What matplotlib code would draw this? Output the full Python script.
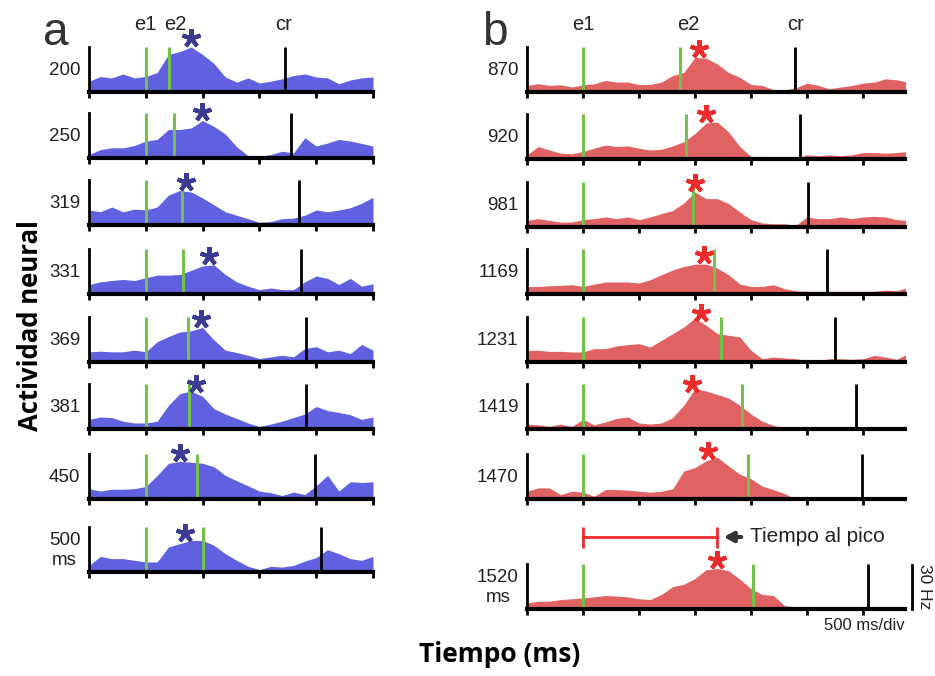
"""
Rebuild of the a/b PSTH figure: firing rate per ISI condition,
blue = short ISIs (panel a), red = long ISIs (panel b).
"""
import numpy as np
import matplotlib
matplotlib.use("Agg")
import matplotlib.pyplot as plt

# ── Data (Hz, every 100 ms) ──────────────────────────────────────────────────
t_a = np.arange(0, 2501, 100)
t_b = np.arange(0, 3401, 100)

labels_a = ["200", "250", "319", "331", "369", "381", "450", "500\nms"]
isi_a = [200, 250, 319, 331, 369, 381, 450, 500]
cr_a = [1729, 1782, 1847, 1862, 1906, 1912, 1988, 2038]
peak_a = [900, 994, 853, 1053, 988, 944, 803, 847]

trace_a_200 = [7.2, 10.3, 9.4, 12, 9.4, 10.3, 13, 25, 27, 30, 25, 19, 10, 6.6, 9.4, 6,
               7.2, 8.8, 11, 12, 10, 9.4, 5.5, 8, 9.4, 10]
trace_a_250 = [2.3, 5.6, 6.8, 6.8, 8.3, 11.3, 12.4, 19, 19, 20, 25, 21, 16, 7.5, 1.6, 1.1,
               2.3, 4.5, 3.4, 13.5, 8, 10, 12.4, 11.3, 9.7, 8]
trace_a_319 = [10, 8.8, 12, 8.8, 10.6, 10, 12, 20, 23, 22, 18, 13.4, 8.8, 6.5, 4.2, 1.8,
               2.3, 4.2, 4.6, 6.5, 10, 8.8, 10, 11.5, 14.5, 18.5]
trace_a_331 = [6.3, 8.1, 9, 9.7, 9, 10.8, 12.6, 12.6, 13, 15.8, 18.7, 19.4, 13, 8.1, 5.2, 2.9,
               4, 2.9, 2.9, 8.1, 12, 10.4, 6.3, 10.4, 5.2, 6.8]
trace_a_369 = [6.8, 7.2, 6.8, 6.8, 7.9, 6.8, 13.5, 17, 20, 20.8, 23, 14.7, 7.9, 6.3, 4.5, 2.3,
               3.4, 4.5, 3.4, 9, 10.2, 6.8, 7.9, 5.6, 11.7, 7.9]
trace_a_381 = [6.4, 8, 7.6, 5.2, 4, 4, 5.2, 15.8, 23.6, 25.3, 21.7, 13.5, 10, 7, 4, 1.7,
               3.3, 5.2, 7.6, 10, 15, 12.3, 11, 9.5, 6.4, 8]
trace_a_450 = [6.9, 5.3, 6.5, 6.5, 6.9, 8.3, 15.7, 23.8, 25, 24.5, 23.8, 21.5, 15.7, 12.2, 8.8, 5.3,
               4.2, 2.3, 4.6, 3, 8.8, 15.7, 5.3, 11.5, 11, 11.5]
trace_a_500 = [4.4, 10.4, 8.9, 8.9, 7.8, 6.7, 6.7, 16.7, 18.9, 21, 21, 17.8, 12.2, 7.8, 3.8, 1.6,
               3.8, 3.3, 4.4, 7.3, 9.6, 14.9, 12.2, 8.9, 7.8, 10.4]
traces_a = [trace_a_200, trace_a_250, trace_a_319, trace_a_331,
            trace_a_369, trace_a_381, trace_a_450, trace_a_500]

labels_b = ["870", "920", "981", "1169", "1231", "1419", "1470", "1520\nms"]
isi_b = [870, 920, 981, 1169, 1231, 1419, 1470, 1520]
cr_b = [2395, 2440, 2506, 2683, 2754, 2940, 2994, 3045]
peak_b = [1536, 1602, 1497, 1581, 1557, 1473, 1617, 1698]

trace_b_870 = [4.4, 5.5, 4.4, 4.8, 3.3, 4.8, 5.5, 7.7, 6.6, 6.6, 5, 5, 6.6, 11, 13, 23, 22.5,
               18.6, 13, 9.8, 5, 4.4, 1.5, 1.5, 2.8, 5.9, 4.4, 2.2, 3.3, 4.4, 5.9, 6.6, 8.8,
               8.1, 6.6]
trace_b_920 = [2.8, 8.3, 6, 3.9, 3.5, 5, 7.2, 9.3, 8.3, 8.7, 7.2, 6, 6.5, 8.7, 11.5, 17, 24,
               24.6, 18, 8.3, 1.7, 1.7, 0.9, 0.4, 0.4, 2.8, 2.2, 2.8, 2.2, 2.8, 4.3, 4.3, 3.9,
               4.3, 5]
trace_b_981 = [4.4, 5.6, 4.4, 3.3, 3.3, 4.9, 5.6, 6.7, 5.6, 6.7, 4.9, 6.7, 8.9, 11, 16, 23.3,
               18.9, 18.9, 15.6, 10, 4.9, 2.7, 2.2, 2.2, 1.1, 6.7, 5.6, 5.6, 6.7, 5.6, 6.7,
               7.1, 6.7, 4.9, 4.4]
trace_b_1169 = [5, 5, 5.5, 5.7, 6.2, 5, 6.6, 8, 8, 8, 7.3, 9.5, 12.8, 16, 18.3, 19.9, 19.9,
                17.2, 12.8, 6.6, 5, 5, 6.2, 3.5, 2.2, 1.8, 1.8, 1.8, 1.8, 1.8, 1.8, 1.8, 2.6,
                2.2, 4.4]
trace_b_1231 = [7.8, 7.8, 7.1, 7.1, 6.7, 6.7, 8.9, 8.9, 10.7, 11.6, 12.2, 10, 14.4, 18.9, 23.3,
                29.3, 24.4, 18.9, 17.8, 16.7, 7.8, 2.2, 3.3, 2.7, 2.2, 1.1, 0.9, 2.2, 2.2, 1.8,
                2.2, 4.4, 3.3, 1.8, 5.6]
trace_b_1419 = [3.3, 2.8, 1.7, 3.3, 1.7, 6.4, 2.8, 4.7, 7.1, 8, 4, 3.3, 4, 7.6, 15.8, 27, 25.3,
                23, 20.6, 15.8, 10, 5.2, 2.4, 1, 1, 0.5, 1.4, 1.7, 0, 0, 0, 0, 0, 0, 0]
trace_b_1470 = [5.2, 7.4, 7.4, 2.9, 5.2, 4.5, 1.8, 6.3, 6.3, 5.9, 5.2, 4.5, 5.2, 6.8, 18.7, 21,
                25.5, 27.8, 22, 16.5, 13.5, 8.6, 6.3, 3.6, 0, 0, 0, 0, 0.5, 0, 0, 1, 0.8, 0, 0]
trace_b_1520 = [4, 5.2, 5.2, 6.3, 6.8, 7.4, 8.1, 9, 8.6, 8.1, 6.8, 6.3, 9.7, 14.9, 16.5, 20.3,
                26.2, 27, 25.5, 19.9, 13.5, 9.7, 9, 2.3, 1.4, 0.5, 0.5, 0.4, 0.4, 0.5, 0.8, 0.4,
                0.6, 1, 0.4]
traces_b = [trace_b_870, trace_b_920, trace_b_981, trace_b_1169,
            trace_b_1231, trace_b_1419, trace_b_1470, trace_b_1520]

E1 = 500          # first stimulus onset, ms
FULL = 30         # Hz, height of the scale bar / row axis

# ── Layout (pixels of the 935x676 canvas) ────────────────────────────────────
W, H = 935, 676
ROW_H = 45
BASE_A = [92, 158, 225, 294, 362, 429, 499, 572]
BASE_B = [92, 159, 227, 294, 362, 429, 499, 609]

BLUE = "#6060e0"
BLUE_STAR = "#3b3b92"
RED = "#e06262"
RED_STAR = "#ee2b2b"
GREEN = "#74c24c"
TXT = "#222222"

plt.rcParams["font.family"] = ["Liberation Sans", "DejaVu Sans"]

fig = plt.figure(figsize=(W / 100, H / 100), dpi=100)


def make_row(x0, width, baseline, xmax, ticks):
    ax = fig.add_axes([x0 / W, (H - baseline) / H, width / W, ROW_H / H])
    ax.set_xlim(0, xmax)
    ax.set_ylim(0, FULL)
    for s in ("top", "right"):
        ax.spines[s].set_visible(False)
    ax.spines["left"].set_linewidth(2)
    ax.spines["bottom"].set_linewidth(3)
    ax.spines["left"].set_zorder(5)
    ax.spines["bottom"].set_zorder(5)
    ax.set_yticks([])
    ax.set_xticks(ticks)
    ax.set_xticklabels([])
    ax.tick_params(axis="x", direction="out", length=4.5, width=2, color="black")
    ax.patch.set_alpha(0)
    return ax


def draw_row(ax, t, trace, isi, cr, peak, label, fill, star, xlab):
    ax.fill_between(t, trace, 0, color=fill, lw=0, zorder=2)
    ax.vlines([E1, E1 + isi], 0, FULL, color=GREEN, lw=2.2, zorder=3)
    ax.vlines(cr, 0, FULL, color="black", lw=2, zorder=3)
    y_peak = np.interp(peak, t, trace)
    ax.plot(peak, y_peak + 6, marker=(5, 2, 0), ms=13.5, mew=3, color=star,
            clip_on=False, zorder=6)
    ax.text(xlab, 0.48, label, transform=ax.transAxes, ha="right", va="center",
            multialignment="center", fontsize=13.5, color=TXT, linespacing=1.2)


axes_a = []
for i in range(8):
    ax = make_row(89, 284, BASE_A[i], 2500, np.arange(0, 2501, 500))
    draw_row(ax, t_a, traces_a[i], isi_a[i], cr_a[i], peak_a[i], labels_a[i],
             BLUE, BLUE_STAR, -0.03)
    axes_a.append(ax)

axes_b = []
for i in range(8):
    ax = make_row(527, 378, BASE_B[i], 3375, np.arange(0, 3001, 500))
    draw_row(ax, t_b, traces_b[i], isi_b[i], cr_b[i], peak_b[i], labels_b[i],
             RED, RED_STAR, -0.022)
    axes_b.append(ax)

# event labels on top rows
top_a, top_b = axes_a[0], axes_b[0]
for ax, xs, dx in [(top_a, [E1, E1 + isi_a[0], cr_a[0]], [0, 5, -1]),
                   (top_b, [E1, E1 + isi_b[0], cr_b[0]], [0, 6, 0])]:
    for name, x, d in zip(["e1", "e2", "cr"], xs, dx):
        ax.annotate(name, xy=(x, 1.0), xycoords=("data", "axes fraction"),
                    xytext=(d, 12), textcoords="offset points", ha="center",
                    va="baseline", fontsize=14.5, color=TXT, annotation_clip=False)

# panel letters
fig.text(43 / W, 1 - 45 / H, "a", fontsize=33, color="#333333", va="baseline")
fig.text(482 / W, 1 - 45 / H, "b", fontsize=33, color="#333333", va="baseline")

# time-to-peak bar above the last red row
ax = axes_b[-1]
bar_y = (BASE_B[-1] - 537) / ROW_H
cap = 10.5 / ROW_H
ax.plot([E1, peak_b[-1]], [bar_y, bar_y], color=RED_STAR, lw=2, clip_on=False,
        transform=ax.get_xaxis_transform())
ax.vlines([E1, peak_b[-1]], bar_y - cap, bar_y + cap, color=RED_STAR, lw=2,
          clip_on=False, transform=ax.get_xaxis_transform())
ax.annotate("", xy=(721 / W, 1 - 537 / H), xytext=(744 / W, 1 - 537 / H),
            xycoords="figure fraction",
            arrowprops=dict(arrowstyle="-|>,head_length=0.55,head_width=0.3",
                            color="#333333", lw=3))
fig.text(750 / W, 1 - 537 / H, "Tiempo al pico", fontsize=15, color=TXT,
         va="center", ha="left")

# scale bars
fig.add_artist(plt.Line2D([912 / W, 912 / W], [1 - 609 / H, 1 - 565 / H],
                          color="black", lw=2))
fig.text(925 / W, 1 - 587 / H, "30 Hz", rotation=270, fontsize=12.5, color=TXT,
         ha="center", va="center")
fig.text(905 / W, 1 - 626 / H, "500 ms/div", fontsize=12, color=TXT,
         ha="right", va="center")

# axis titles
fig.text(30 / W, 1 - 326 / H, "Actividad neural", rotation=90, fontsize=18.5,
         fontweight="bold", family=["Open Sans", "DejaVu Sans"], color="black",
         ha="center", va="center")
fig.text(500 / W, 1 - 655 / H, "Tiempo (ms)", fontsize=19, fontweight="bold",
         family=["Open Sans", "DejaVu Sans"], color="black", ha="center", va="center")

fig.savefig("out.png", dpi=100, facecolor="white")
